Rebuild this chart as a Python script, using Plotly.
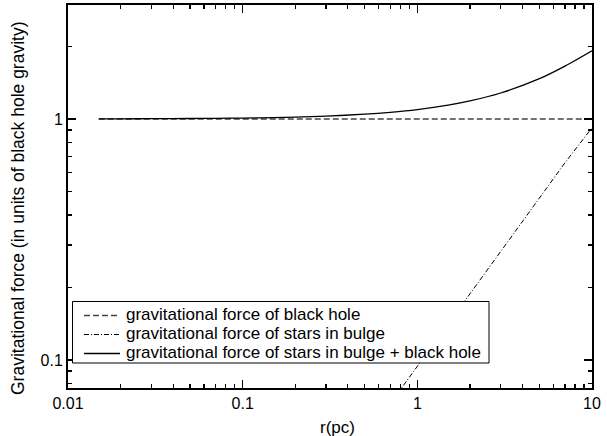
import plotly.graph_objects as go

# ---------------- data ----------------
r_pc = [0.015, 0.02, 0.03, 0.05, 0.07, 0.1, 0.15, 0.2, 0.3, 0.5, 0.7, 1, 1.5, 2, 3, 5, 7, 10]
force_bh = [1.0] * len(r_pc)
force_stars = [0.0014, 0.0019, 0.0028, 0.0047, 0.0066, 0.0094, 0.014, 0.019, 0.028,
               0.047, 0.066, 0.094, 0.141, 0.188, 0.282, 0.47, 0.658, 0.92]
force_total = [1.0014, 1.0019, 1.0028, 1.0047, 1.0066, 1.0094, 1.014, 1.019, 1.028,
               1.047, 1.066, 1.094, 1.141, 1.188, 1.282, 1.47, 1.658, 1.92]

series_names = ["gravitational force of black hole",
                "gravitational force of stars in bulge",
                "gravitational force of stars in bulge + black hole"]

x_tickvals = [0.01, 0.1, 1, 10]
x_ticktext = ["0.01", "0.1", "1", "10"]
x_minorvals = [0.02, 0.03, 0.04, 0.05, 0.06, 0.07, 0.08, 0.09,
               0.2, 0.3, 0.4, 0.5, 0.6, 0.7, 0.8, 0.9,
               2, 3, 4, 5, 6, 7, 8, 9]
y_tickvals = [0.1, 1]
y_ticktext = ["0.1", "1"]
y_minorvals = [0.08, 0.09, 0.2, 0.3, 0.4, 0.5, 0.6, 0.7, 0.8, 0.9, 2, 3]

x_title = "r(pc)"
y_title = "Gravitational force (in units of black hole gravity)"

# ---------------- styling ----------------
FONT = "Liberation Sans, Arial, sans-serif"
W, H = 607, 436
ML, MR, MT, MB = 68, 15, 5, 48
PW, PH = W - ML - MR, H - MT - MB

def px_x(px):
    return (px - ML) / PW

def px_y(py):
    return 1 - (py - MT) / PH

styles = [dict(color="#444", width=1.3, dash="6px,3px"),
          dict(color="black", width=1, dash="5px,2px,1px,2px"),
          dict(color="black", width=1.3, shape="spline", smoothing=0.8)]

fig = go.Figure()
for name, yv, st in zip(series_names, [force_bh, force_stars, force_total], styles):
    fig.add_trace(go.Scatter(x=r_pc, y=yv, mode="lines", name=name, line=st,
                             showlegend=False, hoverinfo="skip"))
# empty trace so the mirrored (top/right) tick axes are drawn
fig.add_trace(go.Scatter(x=[], y=[], xaxis="x2", yaxis="y2", showlegend=False,
                         hoverinfo="skip"))

xr = [-2, 1]
yr = [-1.116, 0.473]

tick_common = dict(ticks="inside", ticklen=8, tickwidth=1.5, tickcolor="black",
                   showgrid=False, zeroline=False)
minor_x = dict(tickmode="array", tickvals=x_minorvals, ticks="inside",
               ticklen=4, tickwidth=1.2, tickcolor="black", showgrid=False)
minor_y = dict(tickmode="array", tickvals=y_minorvals, ticks="inside",
               ticklen=4, tickwidth=1.2, tickcolor="black", showgrid=False)

fig.update_layout(
    xaxis=dict(type="log", range=xr, tickmode="array", tickvals=x_tickvals,
               ticktext=x_ticktext, minor=minor_x, showline=True, linecolor="black",
               linewidth=2, mirror=True, automargin=False, layer="above traces",
               tickfont=dict(family=FONT, size=16, color="black"), **tick_common),
    yaxis=dict(type="log", range=yr, tickmode="array", tickvals=y_tickvals,
               ticktext=y_ticktext, minor=minor_y, showline=True, linecolor="black",
               linewidth=2, mirror=True, automargin=False, layer="above traces",
               tickfont=dict(family=FONT, size=16, color="black"), **tick_common),
    xaxis2=dict(type="log", range=xr, overlaying="x", side="top", anchor="y",
                tickmode="array", tickvals=x_tickvals, ticktext=["" for _ in x_tickvals],
                minor=minor_x, showline=False, automargin=False, **tick_common),
    yaxis2=dict(type="log", range=yr, overlaying="y", side="right", anchor="x",
                tickmode="array", tickvals=y_tickvals, ticktext=["" for _ in y_tickvals],
                minor=minor_y, showline=False, automargin=False, **tick_common),
    width=W, height=H,
    margin=dict(l=ML, r=MR, t=MT, b=MB),
    paper_bgcolor="white", plot_bgcolor="white",
    font=dict(family=FONT, color="black"),
    showlegend=False,
)

# axis titles
fig.add_annotation(text=x_title, xref="paper", yref="paper", x=px_x(337.5), y=px_y(427),
                   xanchor="center", yanchor="middle", showarrow=False,
                   font=dict(family=FONT, size=17, color="black"))
fig.add_annotation(text=y_title, xref="paper", yref="paper", x=px_x(18), y=px_y(208),
                   xanchor="center", yanchor="middle", textangle=-90, showarrow=False,
                   font=dict(family=FONT, size=17.5, color="black"))

# legend (box, line samples and labels)
fig.add_shape(type="rect", xref="paper", yref="paper",
              x0=px_x(72.5), x1=px_x(489), y0=px_y(363), y1=px_y(301.5),
              line=dict(color="black", width=1), fillcolor="white", layer="above")
row_y = [315.5, 334.5, 353.5]
for name, st, ry in zip(series_names, styles, row_y):
    sample = {k: v for k, v in st.items() if k in ("color", "width", "dash")}
    fig.add_shape(type="line", xref="paper", yref="paper",
                  x0=px_x(84), x1=px_x(120), y0=px_y(ry), y1=px_y(ry),
                  line=sample, layer="above")
    fig.add_annotation(text=name, xref="paper", yref="paper", x=px_x(124), y=px_y(ry - 1),
                       xanchor="left", yanchor="middle", showarrow=False,
                       font=dict(family=FONT, size=17, color="black"))

fig.write_html("out.html", config={"displayModeBar": False, "staticPlot": True},
               post_script="document.body.style.margin='0';document.body.style.padding='0';")
